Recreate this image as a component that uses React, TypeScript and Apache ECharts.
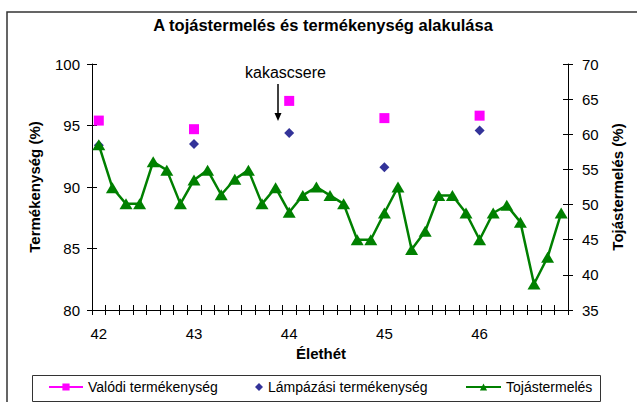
import { useEffect, useRef } from "react";
import * as echarts from "echarts";

// ---- data ----
const weekLabels = ["42", "43", "44", "45", "46"];
const daysPerWeek = 7;
const eggProduction = [
  58.5, 52.4, 50.1, 50.1, 56.1, 54.9, 50.1,
  53.5, 54.9, 51.4, 53.6, 54.9, 50.1, 52.4,
  48.9, 51.3, 52.5, 51.3, 50.1, 45.0, 45.0,
  48.8, 52.5, 43.6, 46.2, 51.3, 51.3, 48.8,
  45.0, 48.8, 49.9, 47.5, 38.7, 42.5, 48.8,
];
const fertilityDayIndex = [0, 7, 14, 21, 28];
const realFertility = [95.4, 94.7, 97.0, 95.6, 95.8];
const candlingFertility = [93.4, 93.5, 94.4, 91.6, 94.6];

const FONT = '"Liberation Sans", Arial, sans-serif';
const PINK = "#FF00FF";
const NAVY = "#000080";
const GREEN = "#008000";

export default function App() {
  const ref = useRef<HTMLDivElement>(null);
  useEffect(() => {
    if (!ref.current) return;
    const chart = echarts.init(ref.current, undefined, { renderer: "svg" });
    const categories = eggProduction.map((_, i) => String(i));
    const labelFmt = (_v: string, idx: number) =>
      idx % daysPerWeek === 0 ? weekLabels[idx / daysPerWeek] ?? "" : "";
    const realData = categories.map((_, i) => {
      const k = fertilityDayIndex.indexOf(i);
      return k >= 0 ? realFertility[k] : null;
    });
    const candlingData = fertilityDayIndex.map((d, k) => [d, candlingFertility[k]]);

    const axisLine = { show: true, lineStyle: { color: "#000", width: 1 } };
    const labelStyle = { color: "#000", fontSize: 15, fontFamily: FONT };
    const nameStyle = { color: "#000", fontSize: 15, fontWeight: "bold" as const, fontFamily: FONT };

    const legendText = { color: "#000", fontSize: 14, fontFamily: FONT };

    chart.setOption({
      animation: false,
      backgroundColor: "#fff",
      grid: { left: 92, right: 69, top: 64, bottom: 92, containLabel: false },
      xAxis: [
        {
          type: "category",
          data: categories,
          boundaryGap: true,
          axisLine,
          axisTick: { show: true, interval: 0, length: 5, lineStyle: { color: "#000" } },
          axisLabel: { interval: 0, formatter: labelFmt, margin: 16, ...labelStyle },
          name: "Élethét",
          nameLocation: "middle",
          nameGap: 36,
          nameTextStyle: { ...nameStyle, padding: [0, 18, 0, 0] },
          splitLine: { show: false },
        },
        {
          type: "category",
          data: categories,
          boundaryGap: true,
          position: "bottom",
          axisLine: { show: false },
          axisTick: { show: true, inside: true, interval: 0, length: 5, lineStyle: { color: "#000" } },
          axisLabel: { show: false },
          splitLine: { show: false },
        },
      ],
      yAxis: [
        {
          type: "value",
          min: 80,
          max: 100,
          interval: 5,
          position: "left",
          axisLine,
          axisTick: { show: true, length: 5, lineStyle: { color: "#000" } },
          axisLabel: { margin: 12, ...labelStyle },
          splitLine: { show: false },
          name: "Termékenység (%)",
          nameLocation: "middle",
          nameGap: 50,
          nameRotate: 90,
          nameTextStyle: nameStyle,
        },
        {
          type: "value",
          min: 35,
          max: 70,
          interval: 5,
          position: "right",
          axisLine,
          axisTick: { show: true, length: 5, lineStyle: { color: "#000" } },
          axisLabel: { margin: 14, ...labelStyle },
          splitLine: { show: false },
          name: "Tojástermelés (%)",
          nameLocation: "middle",
          nameGap: 39,
          nameRotate: 90,
          nameTextStyle: nameStyle,
        },
        {
          type: "value",
          min: 80,
          max: 100,
          interval: 5,
          position: "left",
          axisLine: { show: false },
          axisTick: { show: true, inside: true, length: 5, lineStyle: { color: "#000" } },
          axisLabel: { show: false },
          splitLine: { show: false },
        },
        {
          type: "value",
          min: 35,
          max: 70,
          interval: 5,
          position: "right",
          axisLine: { show: false },
          axisTick: { show: true, inside: true, length: 5, lineStyle: { color: "#000" } },
          axisLabel: { show: false },
          splitLine: { show: false },
        },
      ],
      legend: [
        {
          data: ["Valódi termékenység"],
          left: 48,
          top: 380,
          padding: 0,
          itemWidth: 34,
          itemHeight: 9,
          textStyle: legendText,
          selectedMode: false,
        },
        {
          data: ["Lámpázási termékenység"],
          left: 255,
          top: 380,
          padding: 0,
          itemWidth: 8,
          itemHeight: 8,
          textStyle: legendText,
          selectedMode: false,
        },
        {
          data: ["Tojástermelés"],
          left: 465,
          top: 380,
          padding: 0,
          itemWidth: 35,
          itemHeight: 9,
          textStyle: legendText,
          selectedMode: false,
        },
      ],
      series: [
        {
          name: "Valódi termékenység",
          type: "line",
          xAxisIndex: 0,
          yAxisIndex: 0,
          data: realData,
          connectNulls: false,
          symbol: "rect",
          symbolSize: 10,
          showAllSymbol: true,
          itemStyle: { color: PINK },
          lineStyle: { color: PINK, width: 1.5 },
          z: 3,
        },
        {
          name: "Lámpázási termékenység",
          type: "scatter",
          xAxisIndex: 0,
          yAxisIndex: 0,
          data: candlingData,
          symbol: "diamond",
          symbolSize: 10,
          itemStyle: { color: NAVY },
          z: 2,
        },
        {
          name: "Tojástermelés",
          type: "line",
          xAxisIndex: 0,
          yAxisIndex: 1,
          data: eggProduction,
          symbol: "triangle",
          symbolSize: [13, 11],
          showAllSymbol: true,
          itemStyle: { color: GREEN },
          lineStyle: { color: GREEN, width: 2.5 },
          z: 4,
        },
      ],
      graphic: [
        {
          type: "rect",
          shape: { x: 7, y: 12, width: 800, height: 500 },
          style: { fill: "none", stroke: "#333", lineWidth: 1.5 },
          silent: true,
        },
        {
          type: "rect",
          shape: { x: 32.5, y: 375.5, width: 568, height: 26 },
          style: { fill: "none", stroke: "#333", lineWidth: 1 },
          silent: true,
        },
        {
          type: "text",
          x: 323,
          y: 25,
          style: {
            text: "A tojástermelés és termékenység alakulása",
            fill: "#000",
            font: `bold 16.5px ${FONT}`,
            textAlign: "center",
            textVerticalAlign: "middle",
          },
        },
        {
          type: "text",
          x: 285.5,
          y: 72,
          style: {
            text: "kakascsere",
            fill: "#000",
            font: `16px ${FONT}`,
            textAlign: "center",
            textVerticalAlign: "middle",
          },
        },
        {
          type: "line",
          shape: { x1: 278, y1: 84, x2: 278, y2: 114 },
          style: { stroke: "#000", lineWidth: 1.5 },
        },
        {
          type: "polygon",
          shape: { points: [[274.5, 113], [281.5, 113], [278, 121]] },
          style: { fill: "#000" },
        },
      ],
    });
    return () => chart.dispose();
  }, []);
  return (
    <div
      ref={ref}
      style={{ position: "fixed", left: 0, top: 0, width: 637, height: 402 }}
    />
  );
}
